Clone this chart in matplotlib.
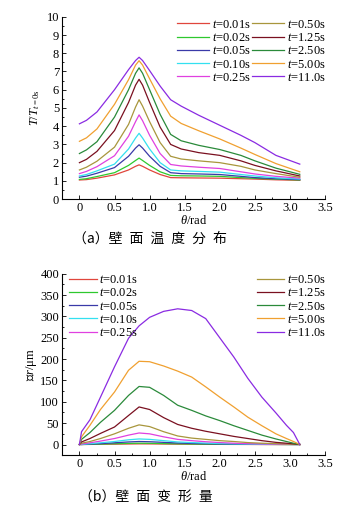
import matplotlib
matplotlib.use('Agg')
import matplotlib.pyplot as plt
from matplotlib.ticker import MultipleLocator

plt.rcParams['font.family'] = ['Liberation Serif', 'DejaVu Sans']
plt.rcParams['mathtext.fontset'] = 'custom'
plt.rcParams['mathtext.rm'] = 'Liberation Serif'
plt.rcParams['mathtext.it'] = 'Liberation Serif:italic'
plt.rcParams['font.size'] = 9

labels = ['0.01s', '0.02s', '0.05s', '0.10s', '0.25s', '0.50s', '1.25s', '2.50s', '5.00s', '11.0s']
colors = ['#e0463c', '#2ec82e', '#3a3aa8', '#33e0f0', '#e040e0',
          '#a8963c', '#7a1020', '#2a8a3a', '#f0a030', '#8a2be2']

# (a) wall temperature ratio
theta_a = [0, 0.1, 0.25, 0.5, 0.7, 0.8, 0.85, 0.9, 1.0, 1.15, 1.3, 1.45, 1.7, 2.0, 2.3, 2.5, 2.8, 3.14]
temp_001 = [1.05, 1.07, 1.15, 1.33, 1.6, 1.8, 1.88, 1.8, 1.6, 1.35, 1.18, 1.17, 1.16, 1.15, 1.12, 1.1, 1.06, 1.03]
temp_002 = [1.08, 1.12, 1.24, 1.45, 1.85, 2.12, 2.25, 2.12, 1.85, 1.5, 1.3, 1.28, 1.27, 1.25, 1.18, 1.14, 1.1, 1.05]
temp_005 = [1.2, 1.26, 1.42, 1.73, 2.35, 2.8, 2.98, 2.8, 2.35, 1.8, 1.45, 1.4, 1.38, 1.35, 1.25, 1.18, 1.12, 1.07]
temp_010 = [1.27, 1.35, 1.55, 1.92, 2.75, 3.35, 3.61, 3.35, 2.75, 2.0, 1.6, 1.55, 1.52, 1.48, 1.35, 1.27, 1.17, 1.1]
temp_025 = [1.4, 1.52, 1.78, 2.38, 3.45, 4.25, 4.62, 4.3, 3.5, 2.5, 1.9, 1.82, 1.75, 1.68, 1.5, 1.38, 1.25, 1.15]
temp_050 = [1.6, 1.75, 2.08, 2.85, 4.1, 5.05, 5.45, 5.1, 4.25, 3.1, 2.35, 2.2, 2.1, 2.0, 1.8, 1.6, 1.4, 1.2]
temp_125 = [2.0, 2.18, 2.62, 3.76, 5.3, 6.25, 6.57, 6.25, 5.3, 3.95, 3.0, 2.75, 2.55, 2.4, 2.1, 1.85, 1.55, 1.27]
temp_250 = [2.5, 2.7, 3.15, 4.5, 6.0, 6.9, 7.2, 6.9, 6.0, 4.65, 3.55, 3.2, 2.95, 2.72, 2.4, 2.1, 1.7, 1.36]
temp_500 = [3.17, 3.36, 3.85, 5.2, 6.55, 7.35, 7.59, 7.35, 6.6, 5.5, 4.55, 4.15, 3.75, 3.3, 2.8, 2.45, 1.95, 1.5]
temp_1100 = [4.13, 4.32, 4.78, 6.0, 7.1, 7.6, 7.78, 7.6, 7.05, 6.2, 5.45, 5.1, 4.6, 4.05, 3.5, 3.1, 2.4, 1.92]

# (b) wall deformation, um
theta_b = [0, 0.03, 0.15, 0.3, 0.5, 0.7, 0.85, 1.0, 1.2, 1.4, 1.6, 1.8, 2.0, 2.2, 2.4, 2.6, 2.8, 2.95, 3.05, 3.14]
def_001 = [0, 0, 0.2, 0.5, 0.8, 1.2, 1.5, 1.4, 1.1, 0.8, 0.6, 0.4, 0.3, 0.2, 0.1, 0, 0, 0, 0, 0]
def_002 = [0, 0, 0.4, 1, 1.8, 2.6, 3, 2.8, 2.2, 1.6, 1.2, 0.9, 0.6, 0.4, 0.3, 0.2, 0.1, 0, 0, 0]
def_005 = [0, 0, 1, 2, 4, 6, 7, 6.5, 5, 3.5, 2.5, 1.8, 1.2, 0.8, 0.5, 0.3, 0.2, 0.1, 0, 0]
def_010 = [0, 0, 2, 4, 7, 11, 13, 12, 9, 6, 4.5, 3.3, 2.3, 1.6, 1, 0.6, 0.3, 0.2, 0.1, 0]
def_025 = [0, 1, 4, 8, 14, 22, 27, 25, 18, 12, 9, 6.5, 4.5, 3, 2, 1.3, 0.8, 0.4, 0.2, 0]
def_050 = [0, 3, 7, 14, 25, 38, 46, 42, 30, 20, 15, 12, 9, 7, 4.5, 3, 2, 1, 0.5, 0]
def_125 = [0, 6, 14, 26, 41, 68, 88, 82, 63, 47, 38, 31, 25, 19, 14, 9, 5, 3, 1.5, 0]
def_250 = [0, 12, 28, 52, 80, 115, 136, 134, 115, 92, 80, 67, 56, 44, 33, 22, 13, 7, 3, 0]
def_500 = [0, 18, 45, 82, 123, 174, 195, 194, 184, 172, 158, 135, 111, 88, 64, 44, 25, 14, 7, 0]
def_1100 = [0, 30, 58, 111, 182, 249, 278, 298, 312, 318, 314, 295, 250, 205, 155, 111, 74, 45, 28, 0]

temp_series = [temp_001, temp_002, temp_005, temp_010, temp_025,
               temp_050, temp_125, temp_250, temp_500, temp_1100]
def_series = [def_001, def_002, def_005, def_010, def_025,
              def_050, def_125, def_250, def_500, def_1100]

fig = plt.figure(figsize=(3.4, 5.08), dpi=100)
ax1 = fig.add_axes([0.182, 0.608, 0.774, 0.359])
ax2 = fig.add_axes([0.182, 0.104, 0.774, 0.357])


def style_axis(ax):
    for side in ['top', 'right']:
        ax.spines[side].set_visible(False)
    for side in ['left', 'bottom']:
        ax.spines[side].set_linewidth(0.8)
    ax.tick_params(which='both', direction='in', width=0.6, pad=2)
    ax.tick_params(which='major', length=3)
    ax.tick_params(which='minor', length=1.6)
    ax.set_xlim(-0.25, 3.5)
    ax.xaxis.set_minor_locator(MultipleLocator(0.25))
    ax.set_xticks([0, 0.5, 1.0, 1.5, 2.0, 2.5, 3.0, 3.5])
    ax.set_xticklabels(['0', '0.5', '1.0', '1.5', '2.0', '2.5', '3.0', '3.5'])
    ax.set_xlabel(r'$\theta$/rad', labelpad=0)


leg_kw = dict(frameon=False, handletextpad=0.2, labelspacing=0.1, borderaxespad=0.2)

# top chart
lines = []
for vals, lab, c in zip(temp_series, labels, colors):
    ln, = ax1.plot(theta_a, vals, color=c, lw=0.9, label='$t$=' + lab)
    lines.append(ln)
style_axis(ax1)
ax1.set_ylim(0, 10)
ax1.yaxis.set_major_locator(MultipleLocator(1))
ax1.yaxis.set_minor_locator(MultipleLocator(0.5))
ax1.set_ylabel(r'$T/T_{t\mathrm{=0s}}$', labelpad=3)
ax1.legend(handles=lines, ncol=2, loc='upper right', bbox_to_anchor=(1.03, 1.03),
           handlelength=2.6, columnspacing=0.1, **leg_kw)

# bottom chart
lines = []
for vals, lab, c in zip(def_series, labels, colors):
    ln, = ax2.plot(theta_b, vals, color=c, lw=0.9, label='$t$=' + lab)
    lines.append(ln)
style_axis(ax2)
ax2.set_ylim(-25, 400)
ax2.yaxis.set_major_locator(MultipleLocator(50))
ax2.yaxis.set_minor_locator(MultipleLocator(25))
ax2.set_ylabel('△$r$/μm', labelpad=1)
leg_left = ax2.legend(handles=lines[:5], loc='upper left', bbox_to_anchor=(0.0, 1.04),
                      handlelength=2.2, **leg_kw)
ax2.add_artist(leg_left)
ax2.legend(handles=lines[5:], loc='upper right', bbox_to_anchor=(1.03, 1.04),
           handlelength=2.2, **leg_kw)

cjk = ['Noto Sans CJK SC', 'DejaVu Sans']
fig.text(0.44, 0.531, '（a）' + '\u2002'.join('壁面温度分布'), ha='center', va='center',
         fontsize=10, family=cjk)
fig.text(0.43, 0.02, '（b）' + '\u2002'.join('壁面变形量'), ha='center', va='center',
         fontsize=10, family=cjk)

fig.savefig('out.png', dpi=100)
